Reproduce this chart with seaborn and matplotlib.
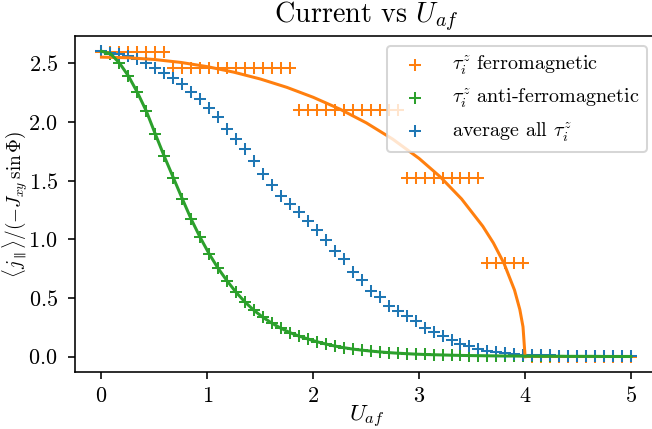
import numpy as np
import matplotlib
matplotlib.use('Agg')
import matplotlib.pyplot as plt
import seaborn as sns

plt.rcParams['font.family'] = ['cmr10']
plt.rcParams['mathtext.fontset'] = 'cm'
plt.rcParams['axes.formatter.use_mathtext'] = True

# U_af grid (60 values from 0 to 5)
u = np.linspace(0, 5, 60)

# tau_i^z ferromagnetic (step-like)
ferro = [2.59] * 8 + [2.46] * 14 + [2.10] * 12 + [1.52] * 9 + [0.80] * 5 + [0.0] * 12

# tau_i^z anti-ferromagnetic
anti = [2.60, 2.58, 2.50, 2.39, 2.25, 2.09, 1.895, 1.705, 1.525, 1.345,
        1.17, 1.015, 0.875, 0.752, 0.645, 0.548, 0.465, 0.394, 0.335, 0.285,
        0.242, 0.205, 0.176, 0.151, 0.128, 0.108, 0.091, 0.077, 0.065, 0.056,
        0.048, 0.041, 0.035, 0.030, 0.026, 0.022, 0.019, 0.017, 0.015, 0.013,
        0.011, 0.010, 0.009, 0.008, 0.007, 0.006, 0.006, 0.005, 0.005, 0.004,
        0.004, 0.004, 0.003, 0.003, 0.003, 0.003, 0.002, 0.002, 0.002, 0.002]

# average over all tau_i^z
avg = [2.60, 2.585, 2.577, 2.56, 2.532, 2.497, 2.46, 2.417, 2.369, 2.321,
       2.255, 2.19, 2.113, 2.037, 1.94, 1.857, 1.764, 1.664, 1.559, 1.459,
       1.368, 1.297, 1.231, 1.155, 1.081, 0.99, 0.90, 0.828, 0.722, 0.654,
       0.563, 0.506, 0.435, 0.392, 0.35, 0.307, 0.242, 0.207, 0.173, 0.145,
       0.108, 0.094, 0.066, 0.051, 0.037, 0.028, 0.023, 0.017, 0.014, 0.012,
       0.011, 0.010, 0.009, 0.008, 0.008, 0.007, 0.007, 0.006, 0.006, 0.006]

# smooth ferromagnetic curve
ferro_line_u = [0, 0.25, 0.5, 0.75, 1.0, 1.25, 1.5, 1.75, 2.0, 2.25, 2.5, 2.75,
                3.0, 3.2, 3.4, 3.6, 3.7, 3.8, 3.9, 3.95, 3.98, 4.0]
ferro_line_y = [2.55, 2.545, 2.53, 2.505, 2.469, 2.422, 2.364, 2.293, 2.208, 2.108,
                1.991, 1.852, 1.687, 1.53, 1.343, 1.111, 0.969, 0.796, 0.567, 0.402,
                0.255, 0.0]

fig = plt.figure(figsize=(652 / 145, 429 / 145), dpi=145)
ax = fig.add_axes([75 / 652, 57 / 429, 582.5 / 652, 336 / 429])

sns.scatterplot(x=u, y=ferro, marker='+', color='C1', s=36, linewidth=1,
                label=r'$\tau_i^z$ ferromagnetic', ax=ax)
sns.lineplot(x=ferro_line_u, y=ferro_line_y, color='C1', linewidth=1.5,
             sort=False, estimator=None, ax=ax)
sns.scatterplot(x=u, y=anti, marker='+', color='C2', s=36, linewidth=1,
                label=r'$\tau_i^z$ anti-ferromagnetic', ax=ax)
sns.lineplot(x=u, y=anti, color='C2', linewidth=1.5, sort=False,
             estimator=None, ax=ax)
sns.scatterplot(x=u, y=avg, marker='+', color='C0', s=36, linewidth=1,
                label=r'average all $\tau_i^z$', ax=ax)

ax.tick_params(labelsize=11)
ax.tick_params(axis='y', pad=5)
ax.set_title(r'Current vs $U_{af}$', fontsize=14, pad=7)
ax.set_xlabel(r'$U_{af}$', fontsize=11.5)
ax.set_ylabel(r'$\langle j_\parallel\rangle/(-J_{xy}\,\sin\Phi)$', fontsize=9.5)
ax.xaxis.set_label_coords(0.5, -0.095)
ax.yaxis.set_label_coords(-0.078, 0.5)
ax.legend(loc='upper right', fontsize=10)

fig.savefig('out.png', dpi=145)
